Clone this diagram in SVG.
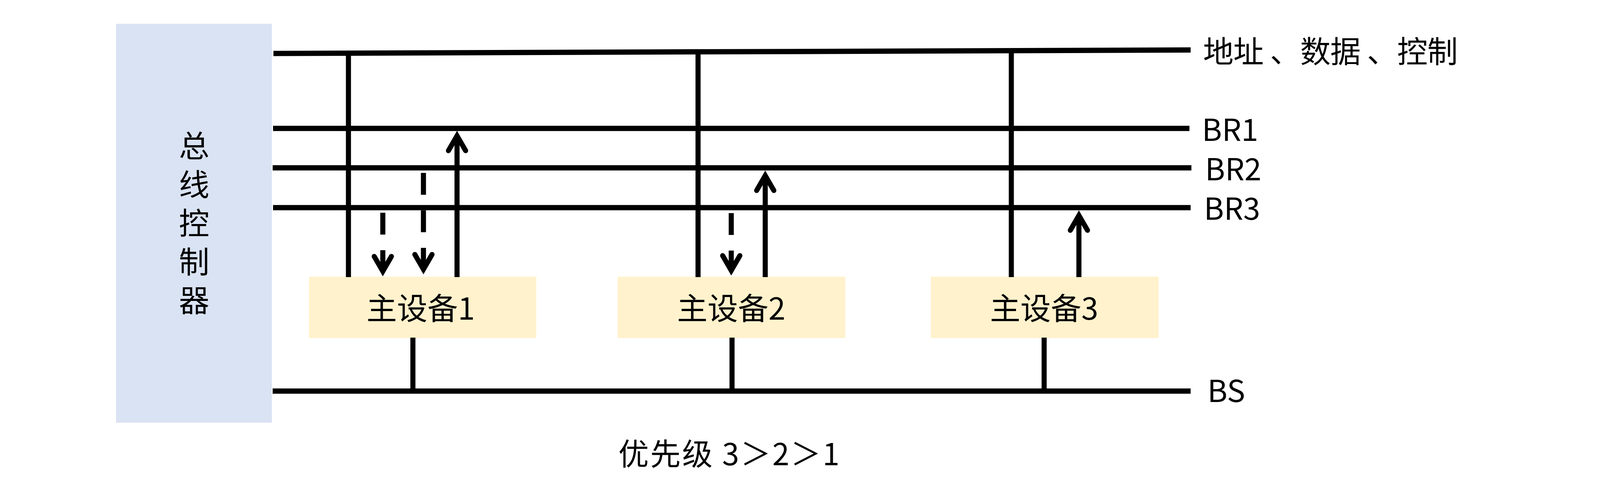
<svg xmlns="http://www.w3.org/2000/svg" width="4405" height="1258" viewBox="0 0 4405 1258">
<style>
  .bus { stroke: #000; stroke-width: 13.5; fill: none; stroke-linecap: butt; }
  .wire { stroke: #000; stroke-width: 13; fill: none; }
  .dash { stroke: #000; stroke-width: 13; fill: none; stroke-dasharray: 56 40; }
  .txt { font-family: "Noto Sans CJK SC", "Noto Sans", sans-serif; font-size: 78px; fill: #000; }
  .vtxt { writing-mode: vertical-rl; letter-spacing: 21px; }
  .ctrl { fill: #DAE3F3; }
  .dev { fill: #FFF2CC; }
</style>
<defs>
  <marker id="ah" markerUnits="userSpaceOnUse" viewBox="-50 -30 60 60" markerWidth="60" markerHeight="60" refX="0" refY="0" orient="auto" overflow="visible">
    <path d="M-38,-22 L0,0 L-38,22" fill="none" stroke="#000" stroke-width="13" stroke-linecap="round" stroke-linejoin="miter" stroke-dasharray="none"/>
  </marker>
</defs>
<rect width="4405" height="1258" fill="#fff"/>

<g id="controller">
  <rect class="ctrl" x="297" y="61" width="399" height="1022"/>
  <text class="txt vtxt" x="497" y="334">总线控制器</text>
</g>

<g id="buses">
  <line class="bus" x1="700" y1="137" x2="3048" y2="128"/>
  <line class="bus" x1="699" y1="329" x2="3045" y2="329"/>
  <line class="bus" x1="698" y1="430" x2="3050" y2="430"/>
  <line class="bus" x1="699" y1="532" x2="3048" y2="532"/>
  <line class="bus" x1="698" y1="1002" x2="3048" y2="1002"/>
  <text class="txt" x="3080" y="161" textLength="652" lengthAdjust="spacing">地址 、数据 、控制</text>
  <text class="txt" x="3077" y="361">BR1</text>
  <text class="txt" x="3085" y="462">BR2</text>
  <text class="txt" x="3082" y="563">BR3</text>
  <text class="txt" x="3091" y="1030">BS</text>
</g>

<g id="device1">
  <rect class="dev" x="791" y="709" width="582" height="157"/>
  <text class="txt" x="1077" y="819" text-anchor="middle">主设备1</text>
</g>
<g id="device2">
  <rect class="dev" x="1581" y="709" width="583" height="157"/>
  <text class="txt" x="1872" y="819" text-anchor="middle">主设备2</text>
</g>
<g id="device3">
  <rect class="dev" x="2383" y="709" width="583" height="157"/>
  <text class="txt" x="2673" y="819" text-anchor="middle">主设备3</text>
</g>

<g id="connectors">
  <line class="wire" x1="892" y1="136" x2="892" y2="710"/>
  <line class="wire" x1="1787" y1="133" x2="1787" y2="710"/>
  <line class="wire" x1="2589" y1="130" x2="2589" y2="710"/>

  <line class="wire" x1="1170" y1="710" x2="1170" y2="348" marker-end="url(#ah)"/>
  <line class="wire" x1="1959" y1="710" x2="1959" y2="450" marker-end="url(#ah)"/>
  <line class="wire" x1="2762" y1="710" x2="2762" y2="552" marker-end="url(#ah)"/>

  <line class="dash" x1="980" y1="545" x2="980" y2="695" marker-end="url(#ah)"/>
  <line class="dash" x1="1084" y1="443" x2="1084" y2="690" marker-end="url(#ah)"/>
  <line class="dash" x1="1872" y1="546" x2="1872" y2="693" marker-end="url(#ah)"/>

  <line class="wire" x1="1057" y1="865" x2="1057" y2="1002"/>
  <line class="wire" x1="1874" y1="865" x2="1874" y2="1002"/>
  <line class="wire" x1="2673" y1="865" x2="2673" y2="1002"/>
</g>

<g id="note">
  <text class="txt" x="1583" y="1192" textLength="566" lengthAdjust="spacing">优先级 3＞2＞1</text>
</g>
</svg>
